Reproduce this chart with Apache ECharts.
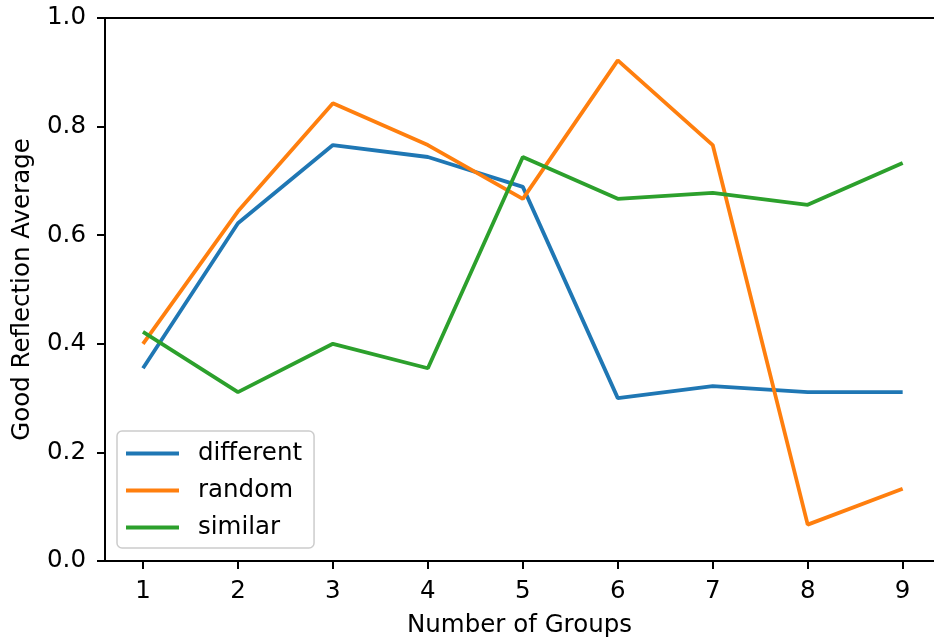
<!DOCTYPE html>
<html>
<head>
<meta charset="utf-8">
<script src="https://cdn.jsdelivr.net/npm/echarts@6/dist/echarts.min.js"></script>
<style>
  html, body { margin: 0; padding: 0; background: #fff; }
  #chart { width: 934px; height: 641px; }
</style>
</head>
<body>
<div id="chart"></div>
<script>
// 数据
const groups = [1, 2, 3, 4, 5, 6, 7, 8, 9];
const different = [0.355, 0.622, 0.766, 0.744, 0.689, 0.300, 0.322, 0.311, 0.311];
const random = [0.400, 0.644, 0.843, 0.766, 0.667, 0.922, 0.766, 0.067, 0.133];
const similar = [0.422, 0.311, 0.400, 0.355, 0.744, 0.667, 0.678, 0.656, 0.733];
const yTicks = [0, 0.2, 0.4, 0.6, 0.8, 1.0];

const font = 'DejaVu Sans';
const fs = 24.5;
const pairs = arr => groups.map((g, i) => [g, arr[i]]);

const chart = echarts.init(document.getElementById('chart'), null, { renderer: 'canvas' });

const lineSeries = (name, arr, color) => ({
  name,
  type: 'line',
  data: pairs(arr),
  showSymbol: false,
  symbol: 'none',
  lineStyle: { color, width: 3.8 },
  itemStyle: { color },
  animation: false
});

// 原图右边框在画面外，x 轴只显示到 ~9.33
const xMin = 0.6;
const xMax = 9.33;

chart.setOption({
  backgroundColor: '#fff',
  animation: false,
  grid: {
    left: 105,
    right: 0,
    top: 18,
    bottom: 80,
    containLabel: false,
    outerBoundsMode: 'none'
  },
  legend: {
    orient: 'vertical',
    left: 117,
    top: 431,
    padding: [10, 12, 8, 9],
    itemWidth: 53,
    itemHeight: 4,
    itemGap: 12,
    icon: 'rect',
    backgroundColor: 'rgba(255,255,255,0.8)',
    borderColor: '#cccccc',
    borderWidth: 1.5,
    borderRadius: 5,
    textStyle: { fontFamily: font, fontSize: fs, color: '#000', padding: [0, 0, 0, 14] },
    data: ['different', 'random', 'similar']
  },
  xAxis: [
    {
      type: 'value',
      min: xMin,
      max: xMax,
      name: 'Number of Groups',
      nameLocation: 'middle',
      nameGap: 52,
      nameTextStyle: { fontFamily: font, fontSize: fs, color: '#000' },
      axisLine: { show: true, lineStyle: { color: '#000', width: 2 } },
      axisTick: { show: true, length: 8, lineStyle: { color: '#000', width: 2 }, customValues: groups },
      axisLabel: { fontFamily: font, fontSize: fs, color: '#000', margin: 18, customValues: groups },
      splitLine: { show: false }
    },
    {
      // 顶部边框
      type: 'value',
      position: 'top',
      min: xMin,
      max: xMax,
      axisLine: { show: true, onZero: false, lineStyle: { color: '#000', width: 2 } },
      axisTick: { show: false },
      axisLabel: { show: false },
      splitLine: { show: false }
    }
  ],
  yAxis: {
    type: 'value',
    min: 0,
    max: 1,
    interval: 0.2,
    name: 'Good Reflection Average',
    nameLocation: 'middle',
    nameGap: 70,
    nameTextStyle: { fontFamily: font, fontSize: fs, color: '#000' },
    axisLine: { show: true, onZero: false, lineStyle: { color: '#000', width: 2 } },
    axisTick: { show: true, length: 8, lineStyle: { color: '#000', width: 2 }, customValues: yTicks },
    axisLabel: { fontFamily: font, fontSize: fs, color: '#000', margin: 19, customValues: yTicks,
      formatter: v => v.toFixed(1) },
    splitLine: { show: false }
  },
  series: [
    lineSeries('different', different, '#1f77b4'),
    lineSeries('random', random, '#ff7f0e'),
    lineSeries('similar', similar, '#2ca02c')
  ]
});
</script>
</body>
</html>
